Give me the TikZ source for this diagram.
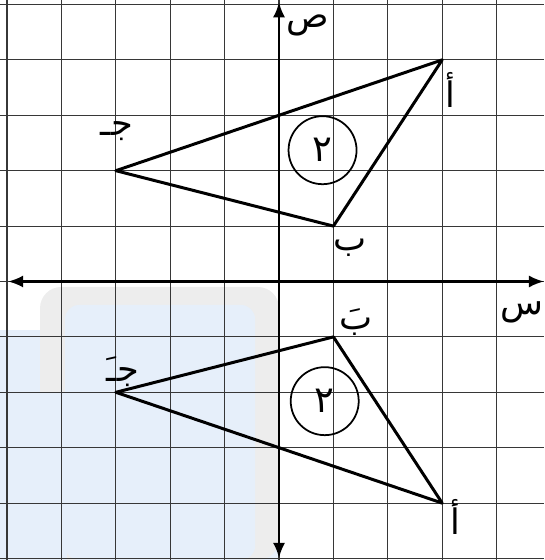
\documentclass[tikz,border=0pt]{standalone}
\usepackage{fontspec}
\newfontfamily\arabicfont[Script=Arabic]{DejaVu Sans}
\TeXXeTstate=1
\usetikzlibrary{arrows.meta}
\definecolor{gridc}{RGB}{55,55,55}
\definecolor{wmblue}{RGB}{230,239,250}
\definecolor{wmgray}{RGB}{237,237,237}
\newcommand{\artxt}[1]{{\arabicfont\beginR #1\endR}}
\begin{document}
\begin{tikzpicture}[x=1.088cm,y=1.108cm,
  gridline/.style={draw=gridc,line width=0.65pt},
  axisline/.style={line width=1.3pt,{Latex[length=3mm,width=2.4mm]}-{Latex[length=3mm,width=2.4mm]}},
  tri/.style={line width=1.7pt,line join=round},
  lbl/.style={font=\fontsize{20}{24}\selectfont, inner sep=0pt},
  numc/.style={draw,circle,line width=1pt,minimum size=1.36cm,inner sep=0pt,font=\fontsize{21}{24}\selectfont}]
\useasboundingbox (-5.129,-5.027) rectangle (4.871,5.081);
\clip (-5.129,-5.027) rectangle (4.871,5.081);
% watermark background
\fill[wmblue] (-5.129,-0.875) rectangle (0,-5.027);
\fill[wmgray,rounded corners=12pt] (-4.393,-0.099) -- (0,-0.099) -- (0,-5.027) -- (-4.393,-5.027) -- cycle;
\fill[wmblue,rounded corners=8pt] (-3.934,-0.424) -- (-0.441,-0.424) -- (-0.441,-5.027) -- (-3.934,-5.027) -- cycle;
\fill[wmblue] (-4.393,-2.0) rectangle (-3.9,-5.027);
% grid
\foreach \y in {-5,...,5} \draw[gridline] (-5.129,\y) -- (4.871,\y);
\foreach \x in {-5,...,4} \draw[gridline] (\x,-5.027) -- (\x,5.081);
% axes
\coordinate (xl) at (-4.98,0);
\coordinate (xr) at (4.87,0);
\coordinate (yt) at (0,5.04);
\coordinate (yb) at (0,-4.99);
\draw[axisline] (xl) -- (xr);
\draw[axisline] (yb) -- (yt);
\node[lbl] (ylab) at (0.53,4.63) {\artxt{ص}};
\node[lbl,anchor=east] (xlab) at (4.86,-0.55) {\artxt{س}};
% original triangle
\coordinate (A) at (3,4);
\coordinate (B) at (1,1);
\coordinate (C) at (-3,2);
\draw[tri] (A) -- (B) -- (C) -- cycle;
\node[lbl] (Alab) at (3.15,3.45) {\artxt{أ}};
\node[lbl] (Blab) at (1.3,0.6) {\artxt{ب}};
\node[lbl] (Clab) at (-2.98,2.72) {\artxt{جـ}};
\node[numc] (n1) at (0.8,2.37) {\artxt{٢}};
% image triangle
\coordinate (A2) at (3,-4);
\coordinate (B2) at (1,-1);
\coordinate (C2) at (-3,-2);
\draw[tri] (A2) -- (B2) -- (C2) -- cycle;
\node[lbl] (A2lab) at (3.24,-4.25) {\artxt{أ}};
\node[lbl] (B2lab) at (1.42,-0.73) {\artxt{بَ}};
\node[lbl] (C2lab) at (-2.87,-1.63) {\artxt{جـَ}};
\node[numc] (n2) at (0.84,-2.16) {\artxt{٢}};
\end{tikzpicture}
\end{document}
